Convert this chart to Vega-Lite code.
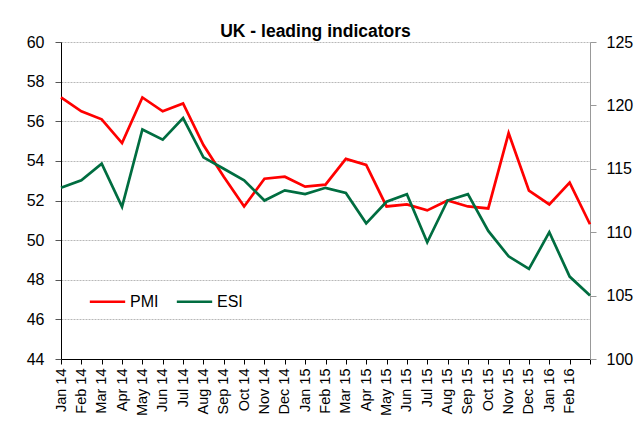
{
  "$schema": "https://vega.github.io/schema/vega-lite/v6.json",
  "autosize": "none",
  "width": 529,
  "height": 317,
  "padding": {"left": 61, "top": 42, "right": 54, "bottom": 88},
  "background": "white",
  "title": {"text": "UK - leading indicators", "font": "Liberation Sans", "fontSize": 17.5, "fontWeight": "bold", "color": "black", "offset": -6, "dx": -10},
  "config": {
    "view": {"stroke": null},
    "font": "Liberation Sans",
    "axis": {"labelFont": "Liberation Sans", "labelColor": "black", "titleColor": "black"}
  },
  "data": {"values": [
    {"month": "Jan 14", "PMI": 57.2, "ESI": 113.5},
    {"month": "Feb 14", "PMI": 56.5, "ESI": 114.1},
    {"month": "Mar 14", "PMI": 56.1, "ESI": 115.4},
    {"month": "Apr 14", "PMI": 54.9, "ESI": 112.0},
    {"month": "May 14", "PMI": 57.2, "ESI": 118.1},
    {"month": "Jun 14", "PMI": 56.5, "ESI": 117.3},
    {"month": "Jul 14", "PMI": 56.9, "ESI": 119.0},
    {"month": "Aug 14", "PMI": 54.8, "ESI": 115.9},
    {"month": "Sep 14", "PMI": 53.2, "ESI": 115.0},
    {"month": "Oct 14", "PMI": 51.7, "ESI": 114.1},
    {"month": "Nov 14", "PMI": 53.1, "ESI": 112.5},
    {"month": "Dec 14", "PMI": 53.2, "ESI": 113.3},
    {"month": "Jan 15", "PMI": 52.7, "ESI": 113.0},
    {"month": "Feb 15", "PMI": 52.8, "ESI": 113.5},
    {"month": "Mar 15", "PMI": 54.1, "ESI": 113.1},
    {"month": "Apr 15", "PMI": 53.8, "ESI": 110.7},
    {"month": "May 15", "PMI": 51.7, "ESI": 112.4},
    {"month": "Jun 15", "PMI": 51.8, "ESI": 113.0},
    {"month": "Jul 15", "PMI": 51.5, "ESI": 109.2},
    {"month": "Aug 15", "PMI": 52.0, "ESI": 112.5},
    {"month": "Sep 15", "PMI": 51.7, "ESI": 113.0},
    {"month": "Oct 15", "PMI": 51.6, "ESI": 110.1},
    {"month": "Nov 15", "PMI": 55.4, "ESI": 108.1},
    {"month": "Dec 15", "PMI": 52.5, "ESI": 107.1},
    {"month": "Jan 16", "PMI": 51.8, "ESI": 110.0},
    {"month": "Feb 16", "PMI": 52.9, "ESI": 106.5},
    {"month": "Mar 16", "PMI": 50.8, "ESI": 105.0}
  ]},
  "encoding": {
    "x": {
      "field": "month", "type": "ordinal", "sort": null,
      "scale": {"type": "point", "padding": 0},
      "axis": {
        "title": null, "labelAngle": -90, "labelFontSize": 14.5, "labelPadding": 4,
        "domainColor": "black", "tickColor": "black", "tickSize": 5, "grid": false,
        "labelExpr": "datum.value == 'Mar 16' ? '' : datum.label"
      }
    }
  },
  "layer": [
    {
      "mark": {"type": "line", "strokeWidth": 2.7},
      "encoding": {
        "y": {
          "field": "PMI", "type": "quantitative",
          "scale": {"domain": [44, 60], "nice": false, "zero": false},
          "axis": {
            "title": null, "orient": "left", "values": [44, 46, 48, 50, 52, 54, 56, 58, 60],
            "labelFontSize": 16, "labelPadding": 11, "tickSize": 6,
            "domainColor": "black", "tickColor": "#555555",
            "grid": true, "gridColor": "#b8b8b8", "gridDash": [2, 1], "gridWidth": 1
          }
        },
        "color": {
          "datum": "PMI", "type": "nominal",
          "scale": {"domain": ["PMI", "ESI"], "range": ["#ff0000", "#006d40"]},
          "legend": {
            "title": null, "orient": "none", "direction": "horizontal",
            "legendX": 27, "legendY": 240,
            "symbolType": "stroke", "symbolSize": 1250, "symbolStrokeWidth": 2.7,
            "labelFontSize": 16, "labelColor": "black", "labelOffset": 3,
            "columnPadding": 12
          }
        }
      }
    },
    {
      "mark": {"type": "line", "strokeWidth": 2.7},
      "encoding": {
        "y": {
          "field": "ESI", "type": "quantitative",
          "scale": {"domain": [100, 125], "nice": false, "zero": false},
          "axis": {
            "title": null, "orient": "right", "values": [100, 105, 110, 115, 120, 125],
            "labelFontSize": 16, "labelPadding": 10, "tickSize": 6,
            "domainColor": "#999999", "tickColor": "#999999", "grid": false
          }
        },
        "color": {"datum": "ESI", "type": "nominal"}
      }
    }
  ],
  "resolve": {"scale": {"y": "independent"}}
}
